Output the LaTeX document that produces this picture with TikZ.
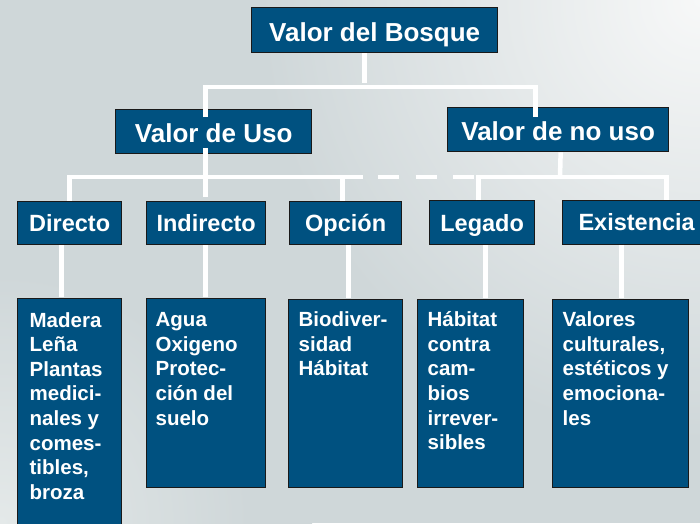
\documentclass[tikz,border=0pt]{standalone}
\usepackage{fontspec}
\setmainfont{Liberation Sans}
\definecolor{boxblue}{RGB}{0,81,128}
\definecolor{bgbase}{HTML}{CFD7D9}
\definecolor{bglight}{HTML}{F7F8F8}
\definecolor{bgbl}{HTML}{E4E9E9}
\pgfdeclareradialshading{blglow}{\pgfpoint{0bp}{0bp}}{color(0bp)=(bgbl); color(20bp)=(bgbase); color(50bp)=(bgbase)}
\pgfdeclareradialshading{trglow}{\pgfpoint{0bp}{0bp}}{color(0bp)=(bglight); color(22bp)=(bgbase); color(50bp)=(bgbase)}
\begin{document}
\begin{tikzpicture}[x=1pt,y=-1pt,
  box/.style={draw=black!90, line width=1.3pt, fill=boxblue, text=white, inner sep=0pt, anchor=north west},
  big/.style={box, font=\fontsize{26}{30}\selectfont\bfseries, text height=22.4pt, text depth=0pt},
  mid/.style={box, font=\fontsize{23.5}{28}\selectfont\bfseries, text height=16.7pt, text depth=0pt},
  list/.style={box, inner xsep=10pt, inner ysep=0pt, font=\fontsize{20.5}{24.6}\selectfont\bfseries},
  conn/.style={draw=white, line width=4.5pt}]
\useasboundingbox (0,0) rectangle (700,523);
\clip (0,0) rectangle (700,523);
% background
\fill[bgbase] (0,0) rectangle (700,523);
\shade[shading=trglow] (200,-500) rectangle (1200,500);
\shade[shading=blglow] (-312,211) rectangle (312,835);

% level 1
\node[big, minimum width=246pt, minimum height=45pt] (vdb) at (251,7) {Valor del Bosque};
% level 2
\node[big, minimum width=196pt, minimum height=44pt] (vuso) at (115,109) {Valor de Uso};
\node[big, minimum width=221pt, minimum height=44pt] (vnouso) at (447,107) {Valor de no uso};
% level 3
\node[mid, minimum width=104pt, minimum height=43.5pt] (directo) at (17,200.5) {Directo};
\node[mid, minimum width=119pt, minimum height=43.5pt] (indirecto) at (146,200.5) {Indirecto};
\node[mid, minimum width=112pt, minimum height=43.5pt] (opcion) at (289,200.5) {Opción};
\node[mid, minimum width=105pt, minimum height=44pt] (legado) at (429,200) {Legado};
\node[mid, minimum width=148pt, minimum height=43.5pt] (existencia) at (562,200) {Existencia};
% level 4
\node[list, inner xsep=12pt] (usodir) at (17,298) {\parbox[t][240pt][t]{80pt}{\raggedright\rule{0pt}{28.5pt}Madera\\Leña\\Plantas\\medici-\\nales y\\comes-\\tibles,\\broza}};
\node[list, inner xsep=9pt] (usoind) at (146,298) {\parbox[t][189pt][t]{101pt}{\raggedright\rule{0pt}{28pt}Agua\\Oxigeno\\Protec-\\ción del\\suelo}};
\node[list] (usoop) at (288,299) {\parbox[t][188pt][t]{94pt}{\raggedright\rule{0pt}{27pt}Biodiver-\\sidad\\Hábitat}};
\node[list] (usoleg) at (417,299) {\parbox[t][188pt][t]{86pt}{\raggedright\rule{0pt}{27pt}Hábitat\\contra\\cam-\\bios\\irrever-\\sibles}};
\node[list] (usoex) at (552,299) {\parbox[t][188pt][t]{116pt}{\raggedright\rule{0pt}{27pt}Valores\\culturales,\\estéticos y\\emociona-\\les}};

% connectors
\coordinate (bus1) at (364,87);
\coordinate (dashL) at (363,177);
\coordinate (dashR) at (476,177);
\coordinate (bus2r) at (560,177);
\draw[conn] ([xshift=-10pt]vdb.south) -- ++(0,30);
\draw[conn] ([xshift=-8pt,yshift=-8pt]vuso.north) |- (bus1) -| ([xshift=-22.5pt,yshift=-10pt]vnouso.north);
\draw[conn] ([xshift=-8pt,yshift=6pt]vuso.south) -- ([xshift=-0.5pt,yshift=4pt]indirecto.north);
\draw[conn] (directo.north) |- (dashL);
\draw[conn] ([xshift=-3.3pt]opcion.north) -- ([xshift=-3.3pt]opcion.north |- dashL);
\draw[conn, dash pattern=on 0pt off 15pt on 21pt off 16.5pt on 21pt off 16.5pt on 21pt off 30pt] (dashL) -- (dashR);
\draw[conn] ([xshift=2.5pt]vnouso.south) -- (bus2r);
\draw[conn] ([xshift=-3.5pt]legado.north) |- (bus2r) -| ([xshift=30pt]existencia.north);
% level 3 to level 4
\draw[conn] ([xshift=-8pt]directo.south) -- ([xshift=-8pt,yshift=1pt]directo.south |- usodir.north);
\draw[conn] ([xshift=-0.5pt]indirecto.south) -- ([xshift=-0.5pt,yshift=1pt]indirecto.south |- usoind.north);
\draw[conn] ([xshift=3pt]opcion.south) -- ([xshift=3pt,yshift=1pt]opcion.south |- usoop.north);
\draw[conn] ([xshift=3.5pt]legado.south) -- ([xshift=3.5pt,yshift=1pt]legado.south |- usoleg.north);
\draw[conn] ([xshift=-15pt]existencia.south) -- ([xshift=-15pt,yshift=1pt]existencia.south |- usoex.north);
\end{tikzpicture}
\end{document}
